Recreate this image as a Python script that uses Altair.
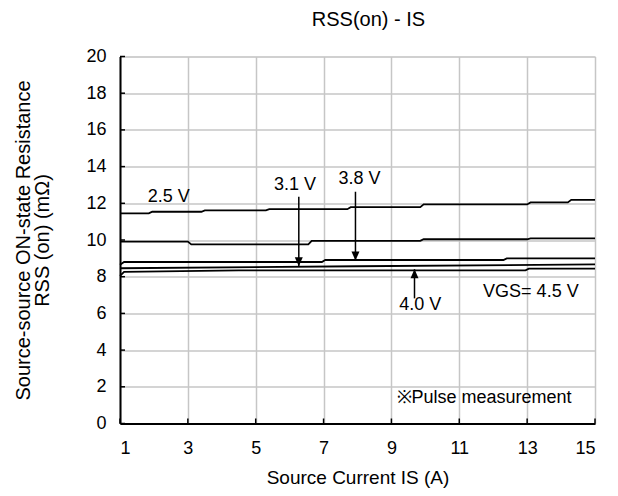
import altair as alt
import pandas as pd

# ---- data ----
x_ticks = [1, 3, 5, 7, 9, 11, 13, 15]
y_ticks = [0, 2, 4, 6, 8, 10, 12, 14, 16, 18, 20]

is_25 = [1, 1.85, 1.95, 3.4, 3.5, 5.3, 5.4, 7.7, 7.8, 9.85, 9.95, 13.0, 13.1, 14.2, 14.3, 15]
r_25 = [11.45, 11.45, 11.54, 11.54, 11.61, 11.61, 11.68, 11.68, 11.79, 11.79, 11.94, 11.94, 12.05, 12.05, 12.19, 12.19]

is_31 = [1, 3.0, 3.1, 6.55, 6.65, 9.85, 9.95, 13.0, 13.1, 15]
r_31 = [9.91, 9.91, 9.76, 9.76, 9.95, 9.95, 10.04, 10.04, 10.09, 10.09]

is_38 = [1, 1.12, 6.95, 7.05, 12.3, 12.4, 15]
r_38 = [8.65, 8.80, 8.80, 8.91, 8.91, 9.00, 9.00]

is_40 = [1, 8, 15]
r_40 = [8.46, 8.57, 8.67]

is_45 = [1, 1.12, 4.5, 4.6, 12.95, 13.05, 15]
r_45 = [8.04, 8.26, 8.35, 8.35, 8.35, 8.44, 8.44]

series = [("2.5 V", is_25, r_25), ("3.1 V", is_31, r_31), ("3.8 V", is_38, r_38),
          ("4.0 V", is_40, r_40), ("4.5 V", is_45, r_45)]

label_text = ["2.5 V", "3.1 V", "3.8 V", "4.0 V", "VGS= 4.5 V", "※Pulse measurement"]
label_x = [2.44, 6.16, 8.06, 9.85, 13.11, 11.73]
label_y = [12.34, 13.0, 13.35, 6.46, 7.17, 1.39]

arrow_x = [6.27, 7.94, 9.68]
arrow_from = [12.36, 12.63, 6.82]
arrow_tip = [8.57, 8.88, 8.41]
arrow_dir = ["down", "down", "up"]

# ---- build tables ----
rows = []
for name, xs, ys in series:
    for i, (a, b) in enumerate(zip(xs, ys)):
        rows.append({"VGS": name, "IS": a, "R": b, "idx": i})
lines_df = pd.DataFrame(rows)
labels_df = pd.DataFrame({"text": label_text, "IS": label_x, "R": label_y})
arrows_df = pd.DataFrame({"IS": arrow_x, "R": arrow_from, "R2": arrow_tip, "dir": arrow_dir})
xt_df = pd.DataFrame({"IS": x_ticks})
yt_df = pd.DataFrame({"R": y_ticks})

FONT = "Liberation Sans"

xscale = alt.Scale(domain=[1, 15], nice=False, zero=False)
yscale = alt.Scale(domain=[0, 20], nice=False)

x_axis = alt.Axis(values=x_ticks, title="Source Current IS (A)", titleFontSize=19,
                  titleFontWeight="normal", titleFont=FONT, titlePadding=11,
                  labelFontSize=18, labelFont=FONT, labelPadding=16, tickSize=0,
                  labelOverlap=False,
                  domainColor="black", domainWidth=2, gridColor="#c6c6c6",
                  gridWidth=1.5, labelColor="black", titleColor="black")
y_axis = alt.Axis(tickCount=10,
                  title=["Source-source ON-state Resistance", "RSS (on)  (mΩ)"],
                  titleFontSize=20, titleFontWeight="normal", titleFont=FONT,
                  titlePadding=33, titleLineHeight=19,
                  labelFontSize=18, labelFont=FONT, labelPadding=14, tickSize=0,
                  labelOverlap=False, labelSeparation=0,
                  domainColor="black", domainWidth=2, gridColor="#c6c6c6",
                  gridWidth=1.5, labelColor="black", titleColor="black")

X = alt.X("IS:Q", scale=xscale, axis=x_axis)
Y = alt.Y("R:Q", scale=yscale, axis=y_axis)

lines = alt.Chart(lines_df).mark_line(color="black", strokeWidth=1.8).encode(
    x=X, y=Y, detail="VGS:N", order="idx:Q")

labels = alt.Chart(labels_df).mark_text(font=FONT, fontSize=18, color="black",
                                        align="center", baseline="middle").encode(
    x=X, y=Y, text="text:N")

shafts = alt.Chart(arrows_df).mark_rule(color="black", strokeWidth=1.5).encode(
    x=X, y=Y, y2="R2:Q")

heads_down = alt.Chart(arrows_df).transform_filter(alt.datum.dir == "down").transform_calculate(
    R="datum.R2").mark_point(
    shape="M0,0L-0.8,-1.8L0.8,-1.8Z", size=100, filled=True, color="black", opacity=1,
    strokeWidth=0).encode(x=X, y=Y)

heads_up = alt.Chart(arrows_df).transform_filter(alt.datum.dir == "up").transform_calculate(
    R="datum.R2").mark_point(
    shape="M0,0L-0.8,1.8L0.8,1.8Z", size=100, filled=True, color="black", opacity=1,
    strokeWidth=0).encode(x=X, y=Y)

xticks = alt.Chart(xt_df).transform_calculate(R="0").mark_tick(
    orient="vertical", size=5, thickness=1.5, yOffset=-2.5, color="black", opacity=1).encode(
    x=X, y=Y)
yticks = alt.Chart(yt_df).transform_calculate(IS="1").mark_tick(
    orient="horizontal", size=5, thickness=1.5, xOffset=2.5, color="black", opacity=1).encode(
    x=X, y=Y)

chart = alt.layer(lines, xticks, yticks, shafts, heads_down, heads_up, labels).properties(
    width=475, height=367,
    title=alt.TitleParams("RSS(on) - IS", fontSize=20, font=FONT, fontWeight="normal",
                          color="black", anchor="middle", dx=11, offset=18),
    autosize=alt.AutoSizeParams(type="none"),
    padding={"left": 112, "top": 48.5, "right": 15, "bottom": 70},
).configure_axis(labelOverlap=False).configure_view(
    stroke="#9a9a9a", strokeWidth=1.5).configure(background="white")

chart.save("out.html", embed_options={"renderer": "svg", "actions": False})
